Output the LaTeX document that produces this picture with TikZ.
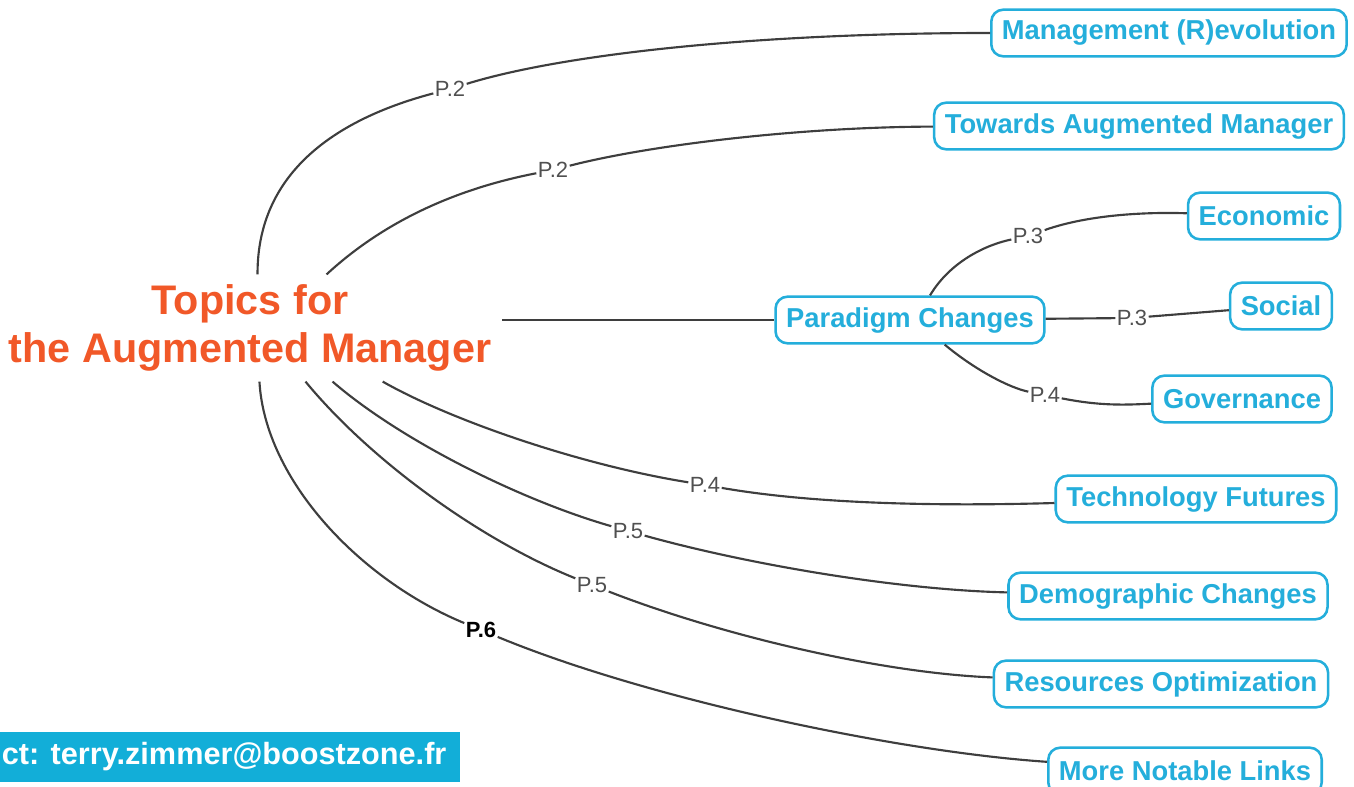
\documentclass[tikz,border=0pt]{standalone}
\usepackage{fontspec}
\setmainfont{Liberation Sans}
\definecolor{topicblue}{RGB}{36,174,219}
\definecolor{rootorange}{RGB}{241,88,40}
\definecolor{linegray}{RGB}{62,62,62}
\definecolor{labelgray}{RGB}{80,80,80}
\definecolor{contactblue}{RGB}{18,174,216}
\begin{document}
\begin{tikzpicture}[x=0.75pt, y=-0.75pt,
  topic/.style={draw=topicblue, line width=1.9pt, rounded corners=9pt, fill=white,
    text=topicblue, font=\bfseries\fontsize{20.5}{24}\selectfont,
    inner xsep=8pt, minimum height=35pt},
  plab/.style={text=labelgray, font=\fontsize{16.5}{18}\selectfont, inner sep=1pt},
  plabdark/.style={plab, text=black, font=\bfseries\fontsize{16.5}{18}\selectfont},
  branch/.style={draw=linegray, line width=1.6pt}]
\clip (0,0) rectangle (1354,787);

% Central topic
\node[text=rootorange, font=\bfseries\fontsize{31}{36.5}\selectfont, align=center,
  inner sep=0pt, minimum width=378pt, minimum height=80pt] (root) at (250,328)
  {Topics for\\the Augmented Manager};

% Topic boxes
\node[topic] (mgmt) at (1169,33) {Management (R)evolution};
\node[topic] (towards) at (1139,126) {Towards Augmented Manager};
\node[topic] (paradigm) at (910,320) {Paradigm Changes};
\node[topic] (econ) at (1264,216) {Economic};
\node[topic] (social) at (1281,306) {Social};
\node[topic] (gov) at (1242,399) {Governance};
\node[topic] (tech) at (1196,499) {Technology Futures};
\node[topic] (demo) at (1168,596) {Demographic Changes};
\node[topic] (res) at (1161,684) {Resources Optimization};
\node[topic] (more) at (1185,771) {More Notable Links};

% Page labels on the branches
\node[plab] (lmgmt) at (450,89) {P.2};
\node[plab] (ltowards) at (553,170) {P.2};
\node[plab] (lecon) at (1028,236) {P.3};
\node[plab] (lsocial) at (1132,318) {P.3};
\node[plab] (lgov) at (1045,395) {P.4};
\node[plab] (ltech) at (705,485) {P.4};
\node[plab] (ldemo) at (628,531) {P.5};
\node[plab] (lres) at (592,585) {P.5};
\node[plabdark] (lmore) at (481,630) {P.6};

% Branches from the central topic
\draw[branch] (root.82) .. controls (257,170) and (340,118) .. (lmgmt)
  .. controls (560,55) and (750,33) .. (mgmt);
\draw[branch] (root.35) .. controls (380,225) and (450,190) .. (ltowards)
  .. controls (650,145) and (800,127) .. (towards);
\draw[branch] (root.east |- paradigm.west) -- (paradigm.west);
\draw[branch] (root.-22) .. controls (450,420) and (580,465) .. (ltech)
  .. controls (820,505) and (950,506) .. (tech);
\draw[branch] (root.-33) .. controls (400,440) and (520,500) .. (ldemo)
  .. controls (750,565) and (900,590) .. (demo);
\draw[branch] (root.-44) .. controls (370,460) and (480,540) .. (lres)
  .. controls (720,635) and (880,673) .. (res);
\draw[branch] (root.-80) .. controls (265,480) and (360,580) .. (lmore)
  .. controls (650,700) and (900,752) .. (more);

% Sub-branches of Paradigm Changes
\draw[branch] ([xshift=15pt]paradigm.north) .. controls (950,262) and (985,245) .. (lecon)
  .. controls (1090,214) and (1150,212) .. (econ);
\draw[branch] (paradigm) -- (lsocial) -- (social);
\draw[branch] ([xshift=26pt]paradigm.south) .. controls (975,370) and (1010,388) .. (lgov)
  .. controls (1100,406) and (1125,405) .. (gov);

% Contact banner
\node[fill=contactblue, text=white, font=\bfseries\fontsize{23}{26}\selectfont,
  anchor=east, inner xsep=10pt, minimum height=37pt] (contact) at (460,757)
  {ct: terry.zimmer@boostzone.fr};
\end{tikzpicture}
\end{document}
